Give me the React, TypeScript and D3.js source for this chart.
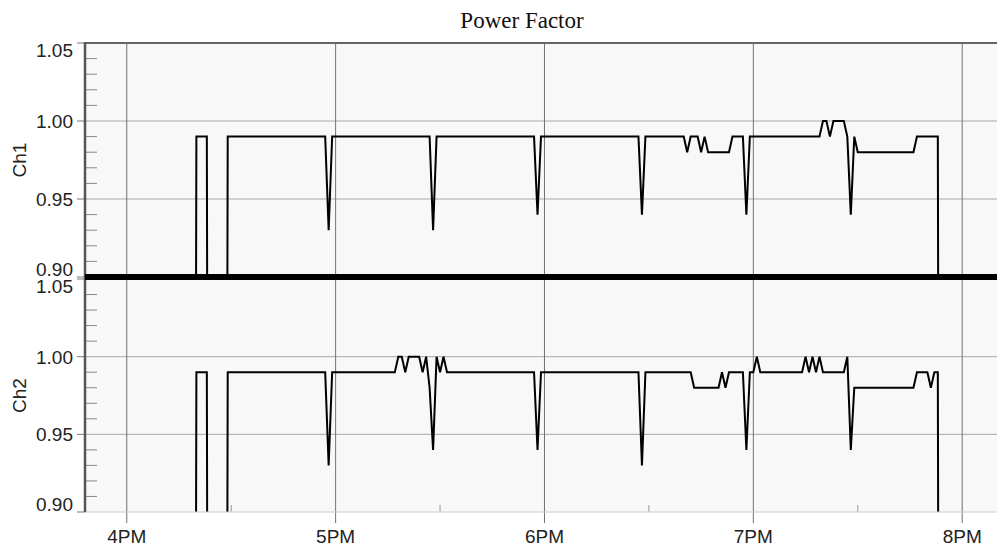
import React from "react";
import * as d3 from "d3";

// power factor readings, only the points where the trace changes (minute samples)
const ch1Times = [
  "16:19", "16:20", "16:23", "16:24", "16:28", "16:29", "16:57", "16:58", "16:59",
  "17:27", "17:28", "17:29", "17:57", "17:58", "17:59", "18:27", "18:28", "18:29",
  "18:40", "18:41", "18:42", "18:44", "18:45", "18:46", "18:47", "18:53", "18:54",
  "18:57", "18:58", "18:59", "19:19", "19:20", "19:21", "19:22", "19:23", "19:26",
  "19:27", "19:28", "19:29", "19:30", "19:46", "19:47", "19:53", "19:54",
];
const ch1Values = [
  0, 0.99, 0.99, 0, 0, 0.99, 0.99, 0.93, 0.99,
  0.99, 0.93, 0.99, 0.99, 0.94, 0.99, 0.99, 0.94, 0.99,
  0.99, 0.98, 0.99, 0.99, 0.98, 0.99, 0.98, 0.98, 0.99,
  0.99, 0.94, 0.99, 0.99, 1.0, 1.0, 0.99, 1.0, 1.0,
  0.99, 0.94, 0.99, 0.98, 0.98, 0.99, 0.99, 0,
];

const ch2Times = [
  "16:19", "16:20", "16:23", "16:24", "16:28", "16:29", "16:57", "16:58", "16:59",
  "17:17", "17:18", "17:19", "17:20", "17:21", "17:24", "17:25", "17:26", "17:27",
  "17:28", "17:29", "17:30", "17:31", "17:32", "17:57", "17:58", "17:59",
  "18:27", "18:28", "18:29", "18:42", "18:43", "18:50", "18:51", "18:52", "18:53",
  "18:57", "18:58", "18:59", "19:00", "19:01", "19:02", "19:14", "19:15", "19:16",
  "19:17", "19:18", "19:19", "19:20", "19:26", "19:27", "19:28", "19:29", "19:46",
  "19:47", "19:50", "19:51", "19:52", "19:53", "19:54",
];
const ch2Values = [
  0, 0.99, 0.99, 0, 0, 0.99, 0.99, 0.93, 0.99,
  0.99, 1.0, 1.0, 0.99, 1.0, 1.0, 0.99, 1.0, 0.98,
  0.94, 1.0, 0.99, 1.0, 0.99, 0.99, 0.94, 0.99,
  0.99, 0.93, 0.99, 0.99, 0.98, 0.98, 0.99, 0.98, 0.99,
  0.99, 0.94, 0.99, 0.99, 1.0, 0.99, 0.99, 1.0, 0.99,
  1.0, 0.99, 1.0, 0.99, 0.99, 1.0, 0.94, 0.98, 0.98,
  0.99, 0.99, 0.98, 0.99, 0.99, 0,
];

const yTickValues = [0.9, 0.95, 1.0, 1.05];
const xDomain = ["15:48", "20:10"];

const W = 997;
const H = 550;
const left = 85;
const right = 997;
const font = "'Liberation Sans', Arial, sans-serif";

const parse = d3.timeParse("%H:%M");

const panels = [
  { name: "Ch1", top: 43, bottom: 277, times: ch1Times, values: ch1Values },
  { name: "Ch2", top: 279, bottom: 512, times: ch2Times, values: ch2Values },
];

const App = () => {
  const x = d3
    .scaleTime()
    .domain(xDomain.map((t) => parse(t) as Date))
    .range([left, right]);

  const hours = x.ticks(d3.timeHour.every(1) as d3.TimeInterval);
  const halves = x
    .ticks(d3.timeMinute.every(30) as d3.TimeInterval)
    .filter((d) => d.getMinutes() === 30);
  const fmt = d3.timeFormat("%-I%p");

  const minor = d3
    .range(90, 106)
    .map((v) => v / 100)
    .filter((v) => !yTickValues.some((t) => Math.abs(t - v) < 1e-6));

  const plotTop = panels[0].top;
  const plotBottom = panels[1].bottom;

  return (
    <svg width={W} height={H} style={{ position: "absolute", left: 0, top: 0, background: "#fff" }}>
      <defs>
        {panels.map((p) => (
          <clipPath id={`clip-${p.name}`} key={p.name}>
            <rect x={left} y={p.top} width={right - left} height={p.bottom - p.top} />
          </clipPath>
        ))}
      </defs>

      <text
        x={522}
        y={28}
        textAnchor="middle"
        fontFamily="'Liberation Serif', 'Times New Roman', serif"
        fontSize={23}
        fill="#111"
      >
        Power Factor
      </text>

      {/* plot background */}
      <rect x={left} y={plotTop} width={right - left} height={plotBottom - plotTop} fill="#f8f8f8" />

      {panels.map((p) => {
        const y = d3.scaleLinear().domain([0.9, 1.05]).range([p.bottom, p.top]);
        return (
          <g key={p.name}>
            {/* horizontal grid */}
            {[0.95, 1.0].map((v) => (
              <line key={v} x1={left} x2={right} y1={y(v)} y2={y(v)} stroke="#a8a8a8" strokeWidth={1} />
            ))}
            {/* minor ticks inward */}
            {minor.map((v) => (
              <line key={v} x1={left} x2={left + 12} y1={y(v)} y2={y(v)} stroke="#888" strokeWidth={1} />
            ))}
            {/* major ticks outward */}
            {yTickValues.map((v) => (
              <line key={v} x1={left - 8} x2={left} y1={y(v)} y2={y(v)} stroke="#777" strokeWidth={1} />
            ))}
            {yTickValues.map((v, i) => {
              let yy = y(v) + 7;
              if (i === yTickValues.length - 1) yy = y(v) + 14;
              if (i === 0) yy = y(v) - 1;
              return (
                <text key={v} x={73} y={yy} textAnchor="end" fontFamily={font} fontSize={19} fill="#222">
                  {d3.format(".2f")(v)}
                </text>
              );
            })}
            <text
              transform={`translate(26,${(p.top + p.bottom) / 2}) rotate(-90)`}
              textAnchor="middle"
              fontFamily={font}
              fontSize={19}
              fill="#222"
            >
              {p.name}
            </text>
          </g>
        );
      })}

      {/* vertical hour grid */}
      {hours.map((h) => (
        <g key={+h}>
          <line x1={x(h)} x2={x(h)} y1={plotTop} y2={plotBottom + 11} stroke="#707070" strokeWidth={1} />
          <text x={x(h)} y={543} textAnchor="middle" fontFamily={font} fontSize={19} fill="#222">
            {fmt(h)}
          </text>
        </g>
      ))}
      {halves.map((h) => (
        <line key={+h} x1={x(h)} x2={x(h)} y1={plotBottom - 7} y2={plotBottom} stroke="#999" strokeWidth={1} />
      ))}

      {panels.map((p) => {
        const y = d3.scaleLinear().domain([0.9, 1.05]).range([p.bottom, p.top]);
        const data = p.times.map((t, i) => ({ t: parse(t) as Date, v: p.values[i] }));
        const line = d3
          .line<{ t: Date; v: number }>()
          .x((d) => x(d.t))
          .y((d) => y(d.v));
        return (
          <path
            key={p.name}
            d={line(data) || ""}
            fill="none"
            stroke="#000"
            strokeWidth={2}
            clipPath={`url(#clip-${p.name})`}
          />
        );
      })}

      {/* frame */}
      <line x1={left} x2={right} y1={plotTop} y2={plotTop} stroke="#666" strokeWidth={2} />
      <line x1={left} x2={right} y1={plotBottom} y2={plotBottom} stroke="#ccc" strokeWidth={1} />
      <line x1={left} x2={left} y1={plotTop - 1} y2={plotBottom} stroke="#555" strokeWidth={2.5} />
      <rect x={left} y={274} width={right - left} height={6} fill="#000" />
    </svg>
  );
};

export default App;
